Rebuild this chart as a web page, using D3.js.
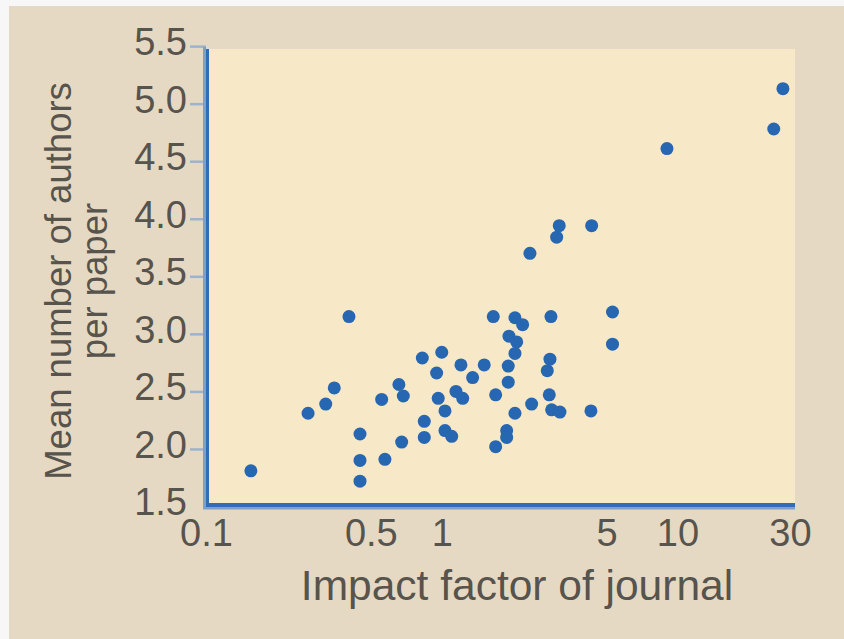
<!DOCTYPE html>
<html>
<head>
<meta charset="utf-8">
<script src="https://cdn.jsdelivr.net/npm/d3@7"></script>
<style>
  html, body { margin: 0; padding: 0; background: #f7f7f7; }
  svg { display: block; }
  text { font-family: "Liberation Sans", Arial, Helvetica, sans-serif; fill: #57534d; }
</style>
</head>
<body>
<svg id="chart" width="844" height="639"></svg>
<script>
// ---- data ----
const impactFactor = [
  0.155, 0.271, 0.322, 0.350, 0.404, 0.450, 0.450, 0.450, 0.556, 0.574,
  0.658, 0.687, 0.676, 0.827, 0.843, 0.843, 0.951, 1.00, 0.966, 1.032,
  1.032, 1.102, 1.149, 1.227, 1.206, 1.352, 1.514, 1.654, 1.693, 1.693,
  1.885, 1.885, 1.914, 1.914, 1.928, 2.079, 2.044, 2.044, 2.203, 2.044,
  2.366, 2.406, 2.877, 2.803, 2.858, 2.905, 2.925, 3.172, 3.072, 3.150,
  4.293, 4.323, 5.30, 5.30, 9.02, 25.6, 28.0
];
const meanAuthors = [
  1.81, 2.31, 2.39, 2.53, 3.15, 2.13, 1.90, 1.72, 2.43, 1.91,
  2.56, 2.46, 2.06, 2.79, 2.24, 2.10, 2.66, 2.84, 2.44, 2.33,
  2.16, 2.11, 2.50, 2.44, 2.73, 2.62, 2.73, 3.15, 2.47, 2.02,
  2.16, 2.10, 2.72, 2.58, 2.98, 2.93, 2.83, 3.14, 3.08, 2.31,
  3.70, 2.39, 2.78, 2.68, 2.47, 3.15, 2.34, 2.32, 3.84, 3.94,
  2.33, 3.94, 3.19, 2.91, 4.61, 4.78, 5.13
];
const xTickValues = [0.1, 0.5, 1, 5, 10, 30];
const xTickLabels = ["0.1", "0.5", "1", "5", "10", "30"];
const yTickValues = [1.5, 2.0, 2.5, 3.0, 3.5, 4.0, 4.5, 5.0, 5.5];
const xTitle = "Impact factor of journal";
const yTitleLines = ["Mean number of authors", "per paper"];

// ---- layout ----
const svg = d3.select("#chart");
const plotLeft = 206, plotRight = 795, plotTop = 49, plotBottom = 506;

const x = d3.scaleLog().domain([0.1, 30]).range([206, 790]);
const y = d3.scaleLinear().domain([1.5, 5.5]).range([506.5, 46.1]);

// panel background
svg.append("rect").attr("x", 9).attr("y", 6).attr("width", 835).attr("height", 633)
  .attr("fill", "#e6d9c3");
// plot area
svg.append("rect").attr("x", plotLeft).attr("y", plotTop)
  .attr("width", plotRight - plotLeft).attr("height", plotBottom - plotTop)
  .attr("fill", "#f7e8c7");

// y axis ticks + labels
const yAxis = d3.axisLeft(y)
  .tickValues(yTickValues)
  .tickFormat(d3.format(".1f"))
  .tickSizeInner(16).tickSizeOuter(0).tickPadding(3);
const gy = svg.append("g").attr("transform", `translate(${plotLeft},0)`).call(yAxis);
gy.select(".domain").remove();
gy.selectAll(".tick line").attr("stroke", "#9db3cb").attr("stroke-width", 2.5)
  .attr("opacity", d => d === 1.5 ? 0 : 1);
gy.selectAll(".tick text")
  .attr("font-size", 38).attr("dy", "0.22em").attr("fill", "#57534d")
  .attr("font-family", null);

// x axis labels
const xAxis = d3.axisBottom(x)
  .tickValues(xTickValues)
  .tickFormat((d, i) => xTickLabels[i])
  .tickSize(0).tickPadding(0);
const gx = svg.append("g").attr("transform", `translate(0,${plotBottom})`).call(xAxis);
gx.select(".domain").remove();
gx.selectAll(".tick text")
  .attr("font-size", 38).attr("y", 40).attr("dy", 0).attr("fill", "#57534d")
  .attr("font-family", null);

// axis lines (two-tone blue)
svg.append("rect").attr("x", 203).attr("y", 47).attr("width", 3).attr("height", 462).attr("fill", "#7f9fc6");
svg.append("rect").attr("x", 206).attr("y", 49).attr("width", 3).attr("height", 458).attr("fill", "#2f6db5");
svg.append("rect").attr("x", 203).attr("y", 507).attr("width", 592).attr("height", 2.5).attr("fill", "#7f9fc6");
svg.append("rect").attr("x", 206).attr("y", 503).attr("width", 589).attr("height", 4).attr("fill", "#2f6db5");

// points
const pts = impactFactor.map((v, i) => ({ x: v, y: meanAuthors[i] }));
svg.append("g").selectAll("circle").data(pts).join("circle")
  .attr("cx", d => x(d.x)).attr("cy", d => y(d.y)).attr("r", 6.5)
  .attr("fill", "#2766b0");

// x title
svg.append("text").attr("x", 517).attr("y", 600).attr("text-anchor", "middle")
  .attr("font-size", 42.5).text(xTitle);

// y title (two lines, rotated)
const yt = svg.append("text").attr("transform", "translate(71,281) rotate(-90)")
  .attr("text-anchor", "middle").attr("font-size", 36.5);
yt.append("tspan").attr("x", 0).attr("y", 0).text(yTitleLines[0]);
yt.append("tspan").attr("x", 0).attr("y", 36).text(yTitleLines[1]);
</script>
</body>
</html>
